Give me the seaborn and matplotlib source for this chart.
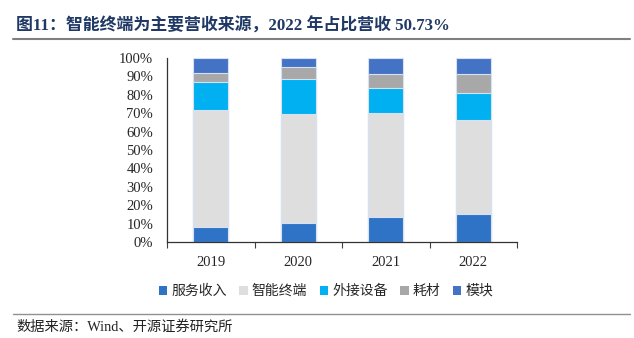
import matplotlib
matplotlib.use("Agg")
import matplotlib.pyplot as plt
from matplotlib.patches import Patch
from matplotlib.lines import Line2D
import numpy as np
import pandas as pd
import seaborn as sns

years = ["2019", "2020", "2021", "2022"]
segments = ["服务收入", "智能终端", "外接设备", "耗材", "模块"]
service = [8.3, 10.2, 13.8, 15.4]
terminal = [63.6, 59.3, 56.1, 50.73]
peripheral = [14.9, 18.9, 13.9, 14.8]
consumables = [5.0, 6.5, 7.7, 10.6]
module = [8.2, 5.1, 8.5, 8.47]
colors = ["#2F73C6", "#DEDEDE", "#00B0F0", "#A8A8A8", "#4472C4"]

sns.set_theme(style="white")
serif_cjk = ["Liberation Serif", "Noto Sans CJK SC"]
plt.rcParams["font.family"] = serif_cjk

shares = np.array([service, terminal, peripheral, consumables, module]) / 100.0
tops = np.cumsum(shares, axis=0)

fig = plt.figure(figsize=(6.34, 3.38), dpi=100)
ax = fig.add_axes([167 / 634, 1 - 242 / 338, 350 / 634, 184 / 338])

# stacked bars: draw cumulative totals from the top segment downward
for i in range(len(segments) - 1, -1, -1):
    df = pd.DataFrame({"year": years, "value": tops[i]})
    sns.barplot(data=df, x="year", y="value", color=colors[i], width=0.4,
                edgecolor="#D6E2F3", linewidth=0.8, saturation=1, ax=ax,
                errorbar=None)

ax.set_xlim(-0.5, 3.5)
ax.set_ylim(0, 1)
ax.set_yticks(np.linspace(0, 1, 11))
ax.set_yticklabels([f"{int(round(v * 100))}%" for v in np.linspace(0, 1, 11)],
                   fontsize=10.5, family="Liberation Serif")
ax.set_xticks(range(len(years)))
ax.set_xticklabels(years, fontsize=10.5, family="Liberation Serif")
ax.set_xticks(np.arange(-0.5, 4, 1), minor=True)
ax.tick_params(axis="x", which="major", length=0, pad=10)
ax.tick_params(axis="x", which="minor", length=4, width=0.8, color="#404040",
               direction="out", bottom=True)
ax.tick_params(axis="y", length=0, pad=10)
ax.set_xlabel("")
ax.set_ylabel("")
for side in ["top", "right"]:
    ax.spines[side].set_visible(False)
for side in ["left", "bottom"]:
    ax.spines[side].set_color("#333333")
    ax.spines[side].set_linewidth(0.9)

handles = [Patch(facecolor=c, edgecolor="none") for c in colors]
fig.legend(handles, segments, loc="center", bbox_to_anchor=(326 / 634, 1 - 291 / 338),
           ncol=5, frameon=False, prop={"family": "Noto Sans CJK SC", "size": 10},
           handlelength=0.6, handleheight=0.6, handletextpad=0.3, columnspacing=0.9)

fig.text(16 / 634, 1 - 26 / 338, "图11：智能终端为主要营收来源，2022 年占比营收 50.73%",
         ha="left", va="center", fontsize=12.2, fontweight="bold", color="#1F3864",
         family=serif_cjk)
fig.add_artist(Line2D([13 / 634, 630 / 634], [1 - 39 / 338, 1 - 39 / 338],
                      color="#808080", lw=1.5, transform=fig.transFigure))
fig.add_artist(Line2D([13 / 634, 630 / 634], [1 - 314 / 338, 1 - 314 / 338],
                      color="#909090", lw=1.0, transform=fig.transFigure))
fig.text(16 / 634, 1 - 327 / 338, "数据来源：Wind、开源证券研究所",
         ha="left", va="center", fontsize=10.3, color="#222222", family=serif_cjk)

fig.savefig("out.png", dpi=100)
